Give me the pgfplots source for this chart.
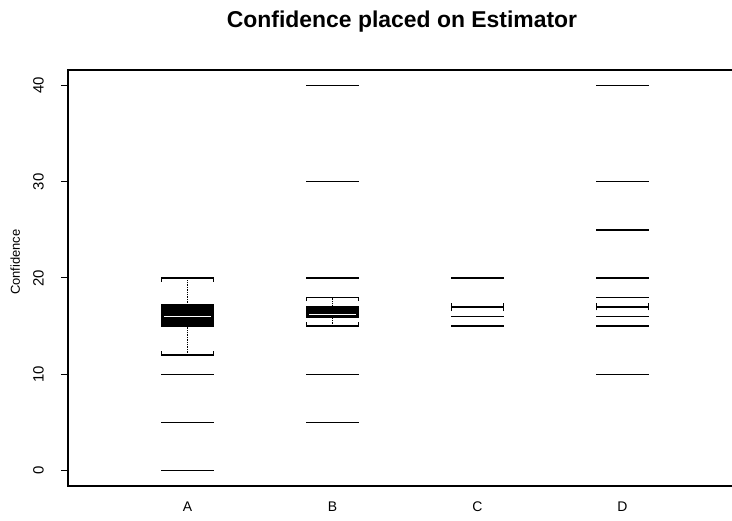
\documentclass[border=0pt]{standalone}
\usepackage{pgfplots}
\pgfplotsset{compat=1.18}
\usepackage{fontspec}
\setmainfont{Liberation Sans}
\begin{document}
\begin{tikzpicture}
\useasboundingbox (-68bp,-35bp) rectangle (664bp,486bp);
\begin{axis}[
  scale only axis, width=664bp, height=416bp,
  at={(0,0)}, anchor=south west,
  xmin=0.176, xmax=4.755, ymin=-1.6, ymax=41.6,
  clip=false,
  axis line style={draw=none},
  xtick={1,2,3,4}, xticklabels={A,B,C,D},
  ytick={0,10,20,30,40},
  tick align=outside, ytick pos=left, xtick pos=bottom,
  major x tick style={draw=none},
  major y tick style={black, line width=1bp},
  major tick length=7bp,
  /pgf/number format/assume math mode=true,
  yticklabel style={rotate=90, anchor=south, inner sep=0pt, font=\fontsize{15}{15}\selectfont, yshift=17bp},
  xticklabel style={anchor=base, inner sep=0pt, font=\fontsize{14}{14}\selectfont, yshift=-18bp},
  ylabel={Confidence},
  ylabel style={at={(axis description cs:-0.0723,0.538)}, anchor=base, inner sep=0pt, font=\fontsize{13}{13}\selectfont},
  title={Confidence placed on Estimator},
  title style={at={(axis description cs:0.503,1)}, anchor=base, inner sep=0pt, yshift=37bp, font=\fontsize{23}{23}\selectfont\bfseries},
  unbounded coords=jump,
  cycle list={{black, mark=none, line width=1.4bp}},
  every axis plot/.append style={black, line width=1.4bp, mark=none, solid},
]
% axis frame (open on the right)
\draw[line width=1.3bp] (rel axis cs:1,1) -- (rel axis cs:0,1) -- (rel axis cs:0,0) -- (rel axis cs:1,0);

% ---- A ----
\addplot[fill=black] coordinates {(0.82,15) (1.18,15) (1.18,17.2) (0.82,17.2) (0.82,15)};
\addplot[white, line width=1.6bp] coordinates {(0.84,16) (1.16,16)};
\addplot[black, densely dotted, line width=0.9bp] coordinates {(1,12) (1,15) (1,nan) (1,17.2) (1,20)};
\addplot[black] coordinates {(0.82,19.6) (0.82,20) (1.18,20) (1.18,19.6)};
\addplot[black] coordinates {(0.82,12.4) (0.82,12) (1.18,12) (1.18,12.4)};
\addplot[black] coordinates {(0.82,10) (1.18,10) (1,nan) (0.82,5) (1.18,5) (1,nan) (0.82,0) (1.18,0)};

% ---- B ----
\addplot[fill=black] coordinates {(1.82,15.9) (2.18,15.9) (2.18,17) (1.82,17) (1.82,15.9)};
\addplot[white, line width=1.4bp] coordinates {(1.84,16.2) (2.16,16.2)};
\addplot[black, densely dotted, line width=0.9bp] coordinates {(2,15) (2,15.9) (2,nan) (2,17) (2,18)};
\addplot[black] coordinates {(1.82,17.6) (1.82,18) (2.18,18) (2.18,17.6)};
\addplot[black] coordinates {(1.82,15.4) (1.82,15) (2.18,15) (2.18,15.4)};
\addplot[black] coordinates {(1.82,40) (2.18,40) (2,nan) (1.82,30) (2.18,30) (2,nan) (1.82,20) (2.18,20) (2,nan) (1.82,10) (2.18,10) (2,nan) (1.82,5) (2.18,5)};

% ---- C ----
\addplot[black] coordinates {(2.82,16.55) (2.82,17.45) (2.82,nan) (2.82,17) (3.18,17) (3.18,nan) (3.18,16.55) (3.18,17.45)};
\addplot[black] coordinates {(2.82,20) (3.18,20) (3,nan) (2.82,16) (3.18,16) (3,nan) (2.82,15) (3.18,15)};

% ---- D ----
\addplot[black] coordinates {(3.82,16.63) (3.82,17.37) (3.82,nan) (3.82,17) (4.18,17) (4.18,nan) (4.18,16.63) (4.18,17.37)};
\addplot[black] coordinates {(3.82,40) (4.18,40) (4,nan) (3.82,30) (4.18,30) (4,nan) (3.82,25) (4.18,25) (4,nan) (3.82,20) (4.18,20) (4,nan) (3.82,18) (4.18,18) (4,nan) (3.82,16) (4.18,16) (4,nan) (3.82,15) (4.18,15) (4,nan) (3.82,10) (4.18,10)};
\end{axis}
\end{tikzpicture}
\end{document}
